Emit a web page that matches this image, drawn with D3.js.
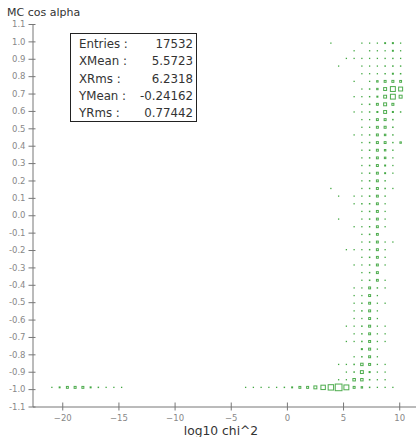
<!DOCTYPE html>
<html>
<head>
<meta charset="utf-8">
<script src="https://cdn.jsdelivr.net/npm/d3@7/dist/d3.min.js"></script>
<style>
  html, body { margin: 0; padding: 0; background: #fff; }
  svg { display: block; }
</style>
</head>
<body>
<svg id="chart" width="416" height="437"></svg>
<script>
// 2D histogram binning (50 x 50)
const nBinsX = 50, xLow = -22.65, xHigh = 11.85;
const nBinsY = 50, yLow = -1.1, yHigh = 1.1;

// Cell contents as [xBin, yBin, entries]
const cellsUpper = [
  [38,47,14],[42,47,16],[43,47,18],[44,47,21],[45,47,62],[46,47,70],[47,47,19],
  [41,46,13],[43,46,31],[44,46,19],[45,46,24],[46,46,66],[47,46,22],
  [40,45,12],[41,45,15],[42,45,17],[43,45,18],[44,45,20],[45,45,33],[46,45,36],[47,45,21],
  [39,44,11],[42,44,16],[43,44,19],[44,44,22],[45,44,38],[46,44,41],[47,44,35],
  [42,43,15],[43,43,18],[44,43,24],[45,43,37],[46,43,68],[47,43,40],
  [41,42,13],[43,42,20],[44,42,104],[45,42,150],[46,42,156],[47,42,142],
  [42,41,17],[43,41,39],[44,41,98],[45,41,268],[46,41,612],[47,41,430],
  [41,40,14],[42,40,18],[43,40,36],[44,40,72],[45,40,262],[46,40,598],[47,40,275],
  [42,39,16],[43,39,41],[44,39,148],[45,39,272],[46,39,158],
  [41,38,12],[42,38,19],[43,38,37],[44,38,69],[45,38,265],[46,38,71],[47,38,38],
  [42,37,17],[43,37,21],[44,37,147],[45,37,155],[46,37,40],
  [42,36,18],[43,36,22],[44,36,151],[45,36,160],[46,36,39],
  [41,35,13],[42,35,17],[43,35,36],[44,35,149],[45,35,108],[46,35,37],
  [42,34,18],[43,34,39],[44,34,154],[45,34,146],[46,34,36],[47,34,102],
  [42,33,19],[43,33,40],[44,33,150],[45,33,106],[46,33,35],
  [42,32,17],[43,32,38],[44,32,145],[45,32,110],[46,32,18],
  [42,31,16],[43,31,41],[44,31,152],[45,31,68],[46,31,17],
  [42,30,18],[43,30,37],[44,30,148],[45,30,64],[46,30,15]
];

const cellsMiddle = [
  [42,29,17],[43,29,39],[44,29,147],[45,29,36],
  [38,28,12],[42,28,19],[43,28,36],[44,28,151],[45,28,40],[46,28,16],
  [39,27,11],[41,27,14],[42,27,18],[43,27,42],[44,27,144],[45,27,35],
  [41,26,13],[42,26,38],[43,26,40],[44,26,146],[45,26,19],
  [42,25,16],[43,25,37],[44,25,150],[45,25,18],
  [39,24,12],[42,24,17],[43,24,39],[44,24,143],[45,24,17],
  [41,23,14],[42,23,19],[43,23,36],[44,23,149],[45,23,16],
  [42,22,18],[43,22,41],[44,22,141],
  [42,21,17],[43,21,38],[44,21,146],[45,21,18],[46,21,14],
  [40,20,12],[41,20,15],[42,20,19],[43,20,37],[44,20,152],[45,20,17],
  [42,19,18],[43,19,40],[44,19,144],[45,19,16],
  [41,18,14],[42,18,17],[43,18,39],[44,18,147],[45,18,18],
  [42,17,19],[43,17,36],[44,17,150],
  [42,16,18],[43,16,41],[44,16,139],[45,16,17],
  [41,15,15],[42,15,20],[43,15,148],[44,15,38],[45,15,16],
  [41,14,14],[42,14,19],[43,14,151],[44,14,18]
];

const cellsLower = [
  [41,13,16],[42,13,37],[43,13,146],[44,13,19],[45,13,15],
  [41,12,15],[42,12,39],[43,12,153],[44,12,18],
  [41,11,17],[42,11,21],[43,11,149],[44,11,17],
  [40,10,13],[41,10,16],[42,10,40],[43,10,155],[44,10,19],[45,10,14],
  [41,9,18],[42,9,38],[43,9,147],[44,9,20],[45,9,15],
  [40,8,14],[41,8,17],[42,8,41],[43,8,152],[44,8,19],[45,8,16],
  [42,7,72],[43,7,158],[44,7,21],
  [41,6,18],[42,6,39],[43,6,150],[44,6,20],
  [39,5,13],[40,5,16],[41,5,42],[42,5,205],[43,5,154],[44,5,19],[45,5,15],
  [40,4,17],[41,4,40],[42,4,266],[43,4,70],[44,4,20],[45,4,16],
  [39,3,15],[40,3,19],[41,3,210],[42,3,203],[43,3,42],[44,3,21],[45,3,17]
];

const cellsFloor = [
  [2,2,14],[3,2,64],[4,2,148],[5,2,155],[6,2,151],[7,2,68],[8,2,38],[9,2,17],[10,2,15],[11,2,13],
  [27,2,12],[28,2,14],[29,2,15],[30,2,17],[31,2,19],[32,2,36],[33,2,66],[34,2,149],[35,2,156],
  [36,2,272],[37,2,512],[38,2,716],[39,2,1038],[40,2,604],[41,2,153],[42,2,104],[43,2,40],
  [44,2,18],[45,2,16],[46,2,14]
];

// Axis ticks
const xTickValues = [-20, -15, -10, -5, 0, 5, 10];
const yTickLabels = ["-1.1","-1.0","-0.9","-0.8","-0.7","-0.6","-0.5","-0.4","-0.3","-0.2","-0.1",
  "0.0","0.1","0.2","0.3","0.4","0.5","0.6","0.7","0.8","0.9","1.0","1.1"];

// Statistics panel
const statNames = ["Entries :", "XMean :", "XRms :", "YMean :", "YRms :"];
const statValues = ["17532", "5.5723", "6.2318", "-0.24162", "0.77442"];

const xTitle = "log10 chi^2";
const yTitle = "MC cos alpha";

const svg = d3.select("#chart");
const frame = { left: 32.5, right: 420, top: 24, bottom: 406.5 };

const x = d3.scaleLinear().domain([xLow, xHigh]).range([frame.left, frame.right]);
const y = d3.scaleLinear().domain([yLow, yHigh]).range([frame.bottom, frame.top]);

const bx = (xHigh - xLow) / nBinsX;
const by = (yHigh - yLow) / nBinsY;

const cells = [...cellsUpper, ...cellsMiddle, ...cellsLower, ...cellsFloor].map(([i, j, n]) => ({
  cx: xLow + (i + 0.5) * bx,
  cy: yLow + (j + 0.5) * by,
  n
}));
const nMax = d3.max(cells, d => d.n);

// Box area proportional to the cell content
const frac = d3.scaleSqrt().domain([0, nMax]).range([0, 1]);
const binW = x(xLow + bx) - x(xLow);
const binH = y(yLow) - y(yLow + by);

const green = "#2f9e2f";
const plot = svg.append("g");
plot.selectAll("rect.cell")
  .data(cells)
  .join("rect")
  .attr("class", "cell")
  .each(function(d) {
    const f = frac(d.n);
    const w = binW * f, h = binH * f;
    const el = d3.select(this);
    if (w < 2.3) {
      const s = Math.max(w, 1.3);
      el.attr("x", x(d.cx) - s / 2).attr("y", y(d.cy) - s / 2)
        .attr("width", s).attr("height", s)
        .attr("fill", green).attr("fill-opacity", 0.9);
    } else {
      el.attr("x", x(d.cx) - w / 2 + 0.5).attr("y", y(d.cy) - h / 2 + 0.5)
        .attr("width", w - 1).attr("height", h - 1)
        .attr("fill", "none").attr("stroke", green).attr("stroke-width", 1)
        .attr("stroke-opacity", 0.85);
    }
  });

// Axes
const axisColor = "#777";
const tickFont = "DejaVu Sans, sans-serif";

const yAxis = svg.append("g")
  .attr("transform", `translate(${frame.left},0)`)
  .call(d3.axisLeft(y)
    .tickValues(yTickLabels.map(Number))
    .tickFormat((d, i) => yTickLabels[i])
    .tickSizeInner(4).tickSizeOuter(0).tickPadding(3));
yAxis.select(".domain").attr("stroke", axisColor);
yAxis.selectAll(".tick line").attr("stroke", axisColor).attr("x1", 3);
yAxis.selectAll(".tick text").attr("fill", "#888")
  .attr("font-family", tickFont).attr("font-size", 8.5);

const xAxis = svg.append("g")
  .attr("transform", `translate(0,${frame.bottom})`)
  .call(d3.axisBottom(x)
    .tickValues(xTickValues)
    .tickFormat(d3.format("d"))
    .tickSizeInner(4).tickSizeOuter(0).tickPadding(4));
xAxis.select(".domain").attr("stroke", axisColor);
xAxis.selectAll(".tick line").attr("stroke", axisColor).attr("y1", -4);
xAxis.selectAll(".tick text").attr("fill", "#888")
  .attr("font-family", tickFont).attr("font-size", 8.5);

// Titles
svg.append("text")
  .attr("x", 7).attr("y", 16)
  .attr("font-family", tickFont).attr("font-size", 11)
  .attr("fill", "#333")
  .text(yTitle);

svg.append("text")
  .attr("x", 221).attr("y", 435)
  .attr("text-anchor", "middle")
  .attr("font-family", tickFont).attr("font-size", 12.3)
  .attr("fill", "#333")
  .text(xTitle);

// Statistics box
const stats = svg.append("g");
stats.append("rect")
  .attr("x", 70.5).attr("y", 33.5).attr("width", 126).attr("height", 88)
  .attr("fill", "#fff").attr("stroke", "#222").attr("stroke-width", 1);
const rowY = d3.scalePoint().domain(d3.range(statNames.length)).range([48, 117]);
stats.selectAll("text.name")
  .data(statNames)
  .join("text")
  .attr("class", "name")
  .attr("x", 79).attr("y", (d, i) => rowY(i))
  .attr("font-family", tickFont).attr("font-size", 11.8).attr("fill", "#333")
  .text(d => d);
stats.selectAll("text.value")
  .data(statValues)
  .join("text")
  .attr("class", "value")
  .attr("x", 193).attr("y", (d, i) => rowY(i))
  .attr("text-anchor", "end")
  .attr("font-family", tickFont).attr("font-size", 11.8).attr("fill", "#333")
  .text(d => d);
</script>
</body>
</html>
